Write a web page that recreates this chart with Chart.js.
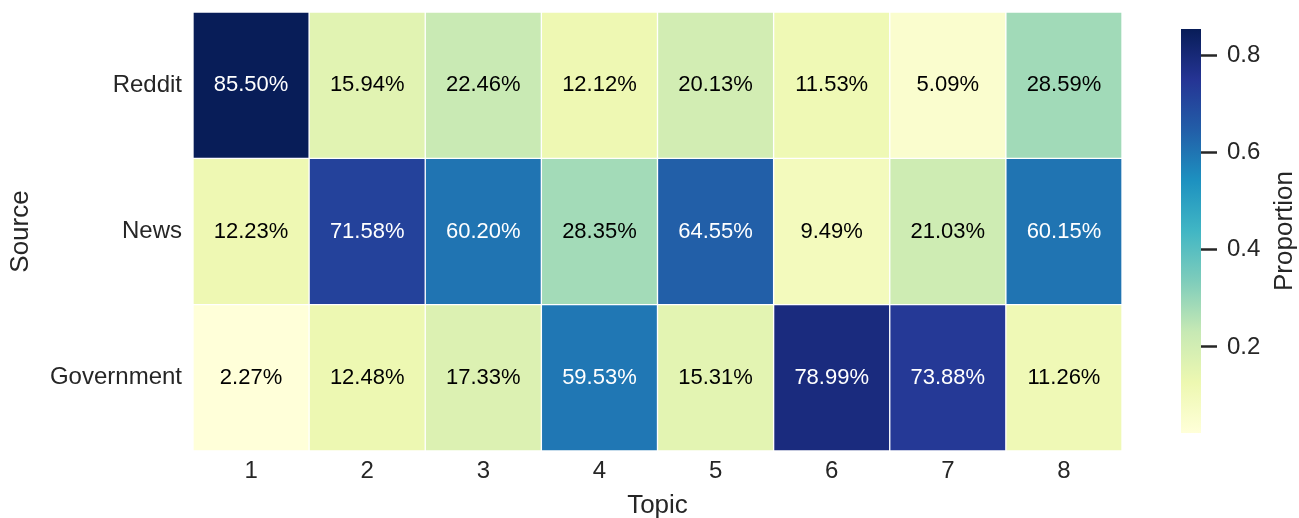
<!DOCTYPE html>
<html>
<head>
<meta charset="utf-8">
<script src="https://cdn.jsdelivr.net/npm/chart.js@4.4.1/dist/chart.umd.min.js"></script>
<style>
  html, body { margin: 0; padding: 0; background: #ffffff; }
  #wrap { position: relative; width: 1299px; height: 518px; }
  #main { position: absolute; left: 0; top: 0; width: 1299px; height: 518px; }
  #cbar { position: absolute; left: 1150px; top: 0; width: 149px; height: 518px; }
</style>
</head>
<body>
<div id="wrap">
  <div id="main"><canvas id="heat"></canvas></div>
  <div id="cbar"><canvas id="scale"></canvas></div>
</div>
<script>
// Topics along the x axis, sources down the y axis
const topics = ['1', '2', '3', '4', '5', '6', '7', '8'];
const sources = ['Reddit', 'News', 'Government'];

// Share of each topic coming from each source
const reddit     = [0.8550, 0.1594, 0.2246, 0.1212, 0.2013, 0.1153, 0.0509, 0.2859];
const news       = [0.1223, 0.7158, 0.6020, 0.2835, 0.6455, 0.0949, 0.2103, 0.6015];
const government = [0.0227, 0.1248, 0.1733, 0.5953, 0.1531, 0.7899, 0.7388, 0.1126];

// Colour bar ticks
const colorbarTicks = [0.2, 0.4, 0.6, 0.8];

const rows = [reddit, news, government];
const allValues = rows.flat();
const vmin = Math.min(...allValues);
const vmax = Math.max(...allValues);

// YlGnBu colour map stops
const ylgnbu = ['#ffffd9', '#edf8b1', '#c7e9b4', '#7fcdbb', '#41b6c4',
                '#1d91c0', '#225ea8', '#253494', '#081d58'];

function hexToRgb(h) {
  return [parseInt(h.slice(1, 3), 16), parseInt(h.slice(3, 5), 16), parseInt(h.slice(5, 7), 16)];
}
const stopRgb = ylgnbu.map(hexToRgb);

function colorFor(v) {
  let t = (v - vmin) / (vmax - vmin);
  t = Math.max(0, Math.min(1, t));
  const pos = t * (stopRgb.length - 1);
  const i = Math.min(Math.floor(pos), stopRgb.length - 2);
  const f = pos - i;
  const a = stopRgb[i], b = stopRgb[i + 1];
  return [0, 1, 2].map(k => Math.round(a[k] + (b[k] - a[k]) * f));
}
function rgbStr(c) { return 'rgb(' + c[0] + ',' + c[1] + ',' + c[2] + ')'; }

function luminance(c) {
  const lin = c.map(x => {
    x /= 255;
    return x <= 0.03928 ? x / 12.92 : Math.pow((x + 0.055) / 1.055, 2.4);
  });
  return 0.2126 * lin[0] + 0.7152 * lin[1] + 0.0722 * lin[2];
}

const FONT = "'Liberation Sans', Arial, sans-serif";
const INK = '#262626';

// Rows are stacked bottom-up: Government, News, Reddit
const stackOrder = [2, 1, 0];
const datasets = stackOrder.map(r => ({
  label: sources[r],
  data: topics.map(() => 1),
  values: rows[r],
  backgroundColor: rows[r].map(v => rgbStr(colorFor(v))),
  borderColor: '#ffffff',
  borderWidth: 1,
  borderSkipped: false,
  barPercentage: 1,
  categoryPercentage: 1
}));

// Writes the percentage in each cell
const cellLabels = {
  id: 'cellLabels',
  afterDatasetsDraw(chart) {
    const ctx = chart.ctx;
    ctx.save();
    ctx.font = '22px ' + FONT;
    ctx.textAlign = 'center';
    ctx.textBaseline = 'middle';
    chart.data.datasets.forEach((ds, di) => {
      const meta = chart.getDatasetMeta(di);
      meta.data.forEach((el, i) => {
        const v = ds.values[i];
        const c = colorFor(v);
        ctx.fillStyle = luminance(c) > 0.408 ? '#000000' : '#ffffff';
        ctx.fillText((v * 100).toFixed(2) + '%', el.x, (el.y + el.base) / 2);
      });
    });
    ctx.restore();
  }
};

new Chart(document.getElementById('heat'), {
  type: 'bar',
  data: { labels: topics, datasets },
  options: {
    responsive: true,
    maintainAspectRatio: false,
    animation: false,
    layout: { padding: { top: 12, right: 177, left: 0, bottom: 0 } },
    plugins: { legend: { display: false }, tooltip: { enabled: false } },
    scales: {
      x: {
        stacked: true,
        grid: { display: false, drawTicks: false },
        border: { display: false },
        ticks: { color: INK, font: { family: FONT, size: 24 }, padding: 6 },
        title: { display: true, text: 'Topic', color: INK, font: { family: FONT, size: 26 }, padding: { top: 0, bottom: -3 } },
        afterFit(axis) { axis.height = 67; axis.paddingLeft = 0; axis.paddingRight = 0; }
      },
      y: {
        stacked: true,
        min: 0,
        max: 3,
        grid: { display: false, drawTicks: false },
        border: { display: false },
        afterBuildTicks(axis) { axis.ticks = [0.5, 1.5, 2.5].map(v => ({ value: v })); },
        ticks: {
          color: INK,
          font: { family: FONT, size: 24 },
          padding: 11,
          callback: v => sources[2 - Math.floor(v)]
        },
        title: { display: true, text: 'Source', color: INK, font: { family: FONT, size: 26 }, padding: { top: 5, bottom: 0 } },
        afterFit(axis) { axis.width = 193; axis.paddingTop = 0; axis.paddingBottom = 0; }
      }
    }
  },
  plugins: [cellLabels]
});

// Colour bar: one floating bar spanning the data range, filled with the map
const cbarTitle = {
  id: 'cbarTitle',
  afterDraw(chart) {
    const ctx = chart.ctx;
    ctx.save();
    ctx.font = '26px ' + FONT;
    ctx.fillStyle = INK;
    ctx.textAlign = 'center';
    ctx.textBaseline = 'middle';
    const area = chart.chartArea;
    ctx.translate(135, (area.top + area.bottom) / 2);
    ctx.rotate(-Math.PI / 2);
    ctx.fillText('Proportion', 0, 0);
    ctx.restore();
  }
};

new Chart(document.getElementById('scale'), {
  type: 'bar',
  data: {
    labels: [''],
    datasets: [{
      data: [[vmin, vmax]],
      backgroundColor(ctx) {
        const chart = ctx.chart;
        const area = chart.chartArea;
        if (!area) return ylgnbu[4];
        const ys = chart.scales.y;
        const g = chart.ctx.createLinearGradient(0, ys.getPixelForValue(vmin), 0, ys.getPixelForValue(vmax));
        ylgnbu.forEach((c, i) => g.addColorStop(i / (ylgnbu.length - 1), c));
        return g;
      },
      borderWidth: 0,
      barPercentage: 1,
      categoryPercentage: 1
    }]
  },
  options: {
    responsive: true,
    maintainAspectRatio: false,
    animation: false,
    layout: { padding: { top: 29, bottom: 85, left: 31, right: 0 } },
    plugins: { legend: { display: false }, tooltip: { enabled: false } },
    scales: {
      x: { display: false },
      y: {
        position: 'right',
        min: vmin,
        max: vmax,
        grid: { drawOnChartArea: false, drawTicks: true, tickLength: 16, tickWidth: 2.5, tickColor: INK },
        border: { display: false },
        afterBuildTicks(axis) { axis.ticks = colorbarTicks.map(v => ({ value: v })); },
        ticks: { color: INK, font: { family: FONT, size: 24 }, padding: 10, callback: v => v.toFixed(1) },
        afterFit(axis) { axis.width = 98; axis.paddingTop = 0; axis.paddingBottom = 0; }
      }
    }
  },
  plugins: [cbarTitle]
});
</script>
</body>
</html>
